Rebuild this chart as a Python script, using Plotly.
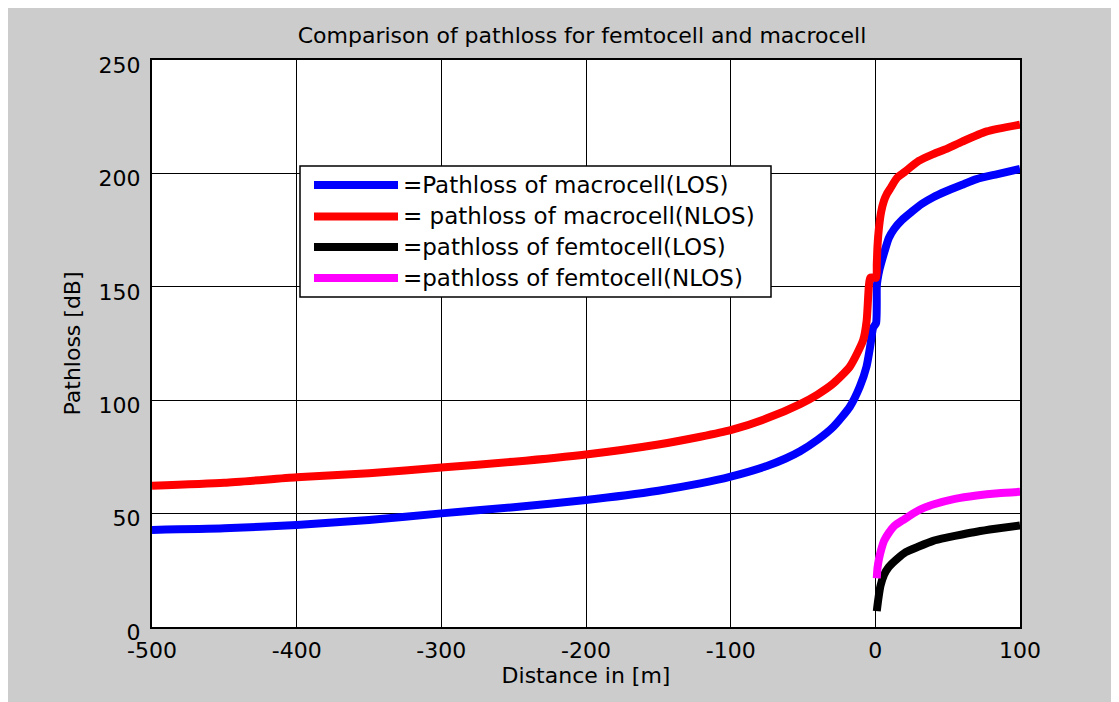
import plotly.graph_objects as go

# ---- data ----
macro_los_x = [-500, -450, -400, -350, -300, -250, -200, -150, -121, -100, -75, -62, -52, -40, -29, -17.6,
               -10.7, -6.1, -3.5, -1.5, 0.5, 1.0, 1.5, 3, 4.7, 7, 9.3, 13, 18.5, 25, 32, 40, 48.5, 60, 70, 83, 100]
macro_los_y = [42.8, 43.5, 45.0, 47.2, 50.1, 52.8, 56.0, 60.1, 63.3, 66.3, 71.0, 74.3, 77.5, 82.5, 88.3, 97.1,
               106, 114.8, 124, 132, 134, 150, 153, 158, 162, 167, 171.5, 175.5, 179.5, 183, 186.5, 189.5, 192, 195, 197.5, 199.5, 202]

macro_nlos_x = [-500, -450, -400, -350, -300, -250, -200, -150, -121, -100, -75, -52, -40, -29, -17.6,
                -8.4, -6, -4.5, -3.5, 0.5, 1.0, 1.5, 2.5, 4, 6, 8, 10, 15, 20, 30, 40, 50, 60, 77, 100]
macro_nlos_y = [62.3, 63.6, 66.0, 67.8, 70.3, 72.9, 76.1, 80.5, 83.9, 86.8, 92.0, 98.3, 102.5, 107.4, 114.8,
                126.5, 135, 150, 154, 154, 160, 168, 176, 183, 188, 191, 193, 198, 200.5, 205.5, 208.5, 211, 214, 218.5, 221.5]

femto_los_x = [1, 2, 3.5, 6, 9.3, 15, 21, 30, 40, 50, 60, 70, 83, 100]
femto_los_y = [7, 12, 18, 23, 26.5, 30, 33, 35.5, 38, 39.5, 40.8, 42, 43.3, 44.8]

femto_nlos_x = [1, 1.5, 2.5, 4, 6, 9.3, 13, 20, 30, 40, 55, 70, 85, 100]
femto_nlos_y = [21.5, 26, 30, 34, 38, 41.5, 44.5, 47.5, 51.5, 54, 56.5, 58, 59, 59.6]

names = ["=Pathloss of macrocell(LOS)", "= pathloss of macrocell(NLOS)",
         "=pathloss of femtocell(LOS)", "=pathloss of femtocell(NLOS)"]
colors = ["#0000ff", "#ff0000", "#000000", "#ff00ff"]

x_ticks = [-500, -400, -300, -200, -100, 0, 100]
y_ticks = [0, 50, 100, 150, 200, 250]

FONT = "DejaVu Sans, Arial, sans-serif"

# page layout (the page body adds an 8px offset)
OFF = 8
W, H = 1119 - OFF, 702 - OFF
PL, PR, PT, PB = 152, 1020, 60, 627  # plot area in reference pixels


def px(X):
    return (X - PL) / (PR - PL)


def py(Y):
    return (PB - Y) / (PB - PT)


fig = go.Figure()
for xs, ys, nm, c in [(macro_los_x, macro_los_y, names[0], colors[0]),
                      (macro_nlos_x, macro_nlos_y, names[1], colors[1]),
                      (femto_los_x, femto_los_y, names[2], colors[2]),
                      (femto_nlos_x, femto_nlos_y, names[3], colors[3])]:
    fig.add_trace(go.Scatter(x=xs, y=ys, mode="lines", name=nm, showlegend=False,
                             line=dict(color=c, width=8, shape="spline", smoothing=0.6)))

axis_common = dict(showline=True, linecolor="black", linewidth=2, mirror=True,
                   showgrid=True, gridcolor="black", gridwidth=1,
                   ticks="inside", ticklen=6, tickcolor="black", zeroline=False,
                   tickfont=dict(family=FONT, size=22, color="black"))

# hand-drawn legend (MATLAB style, long line samples)
shapes = [dict(type="rect", xref="paper", yref="paper", x0=px(300), x1=px(771),
               y0=py(297), y1=py(166), fillcolor="white", line=dict(color="black", width=1.5))]
annotations = []
row_y = [185, 216.5, 247, 278]
for nm, c, ry in zip(names, colors, row_y):
    shapes.append(dict(type="line", xref="paper", yref="paper", x0=px(314), x1=px(398),
                       y0=py(ry), y1=py(ry), line=dict(color=c, width=8)))
    annotations.append(dict(text=nm, xref="paper", yref="paper", x=px(401), y=py(ry),
                            xanchor="left", yanchor="middle", showarrow=False,
                            font=dict(family=FONT, size=23, color="black")))

fig.update_layout(
    width=W, height=H,
    margin=dict(l=PL - OFF, r=W - (PR - OFF), t=PT - OFF, b=H - (PB - OFF)),
    paper_bgcolor="#cccccc", plot_bgcolor="white",
    title=dict(text="Comparison of pathloss for femtocell and macrocell",
               x=(582 - OFF) / W, xanchor="center", y=1 - (35 - OFF) / H, yanchor="middle",
               font=dict(family=FONT, size=22, color="black")),
    xaxis=dict(range=[-500, 100], tickvals=x_ticks, ticktext=[str(v) for v in x_ticks],
               ticklabelstandoff=3,
               title=dict(text="Distance in [m]", font=dict(family=FONT, size=22, color="black"), standoff=3),
               **axis_common),
    yaxis=dict(range=[0, 250], tickvals=y_ticks, ticktext=[str(v) for v in y_ticks],
               ticklabelstandoff=5, ticklabelshift=5,
               title=dict(text="Pathloss [dB]", font=dict(family=FONT, size=22, color="black"), standoff=12),
               **axis_common),
    showlegend=False,
    shapes=shapes,
    annotations=annotations,
)

fig.write_html("out.html")
